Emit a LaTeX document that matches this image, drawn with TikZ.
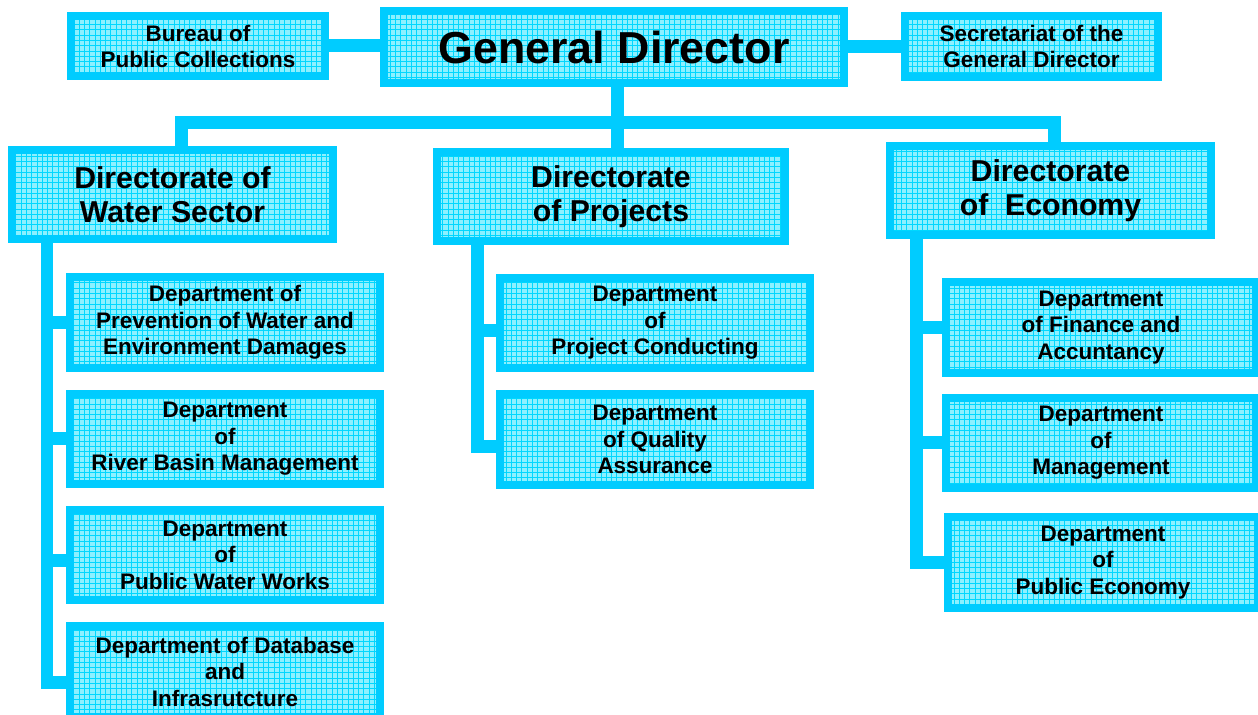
\documentclass[tikz,border=0pt]{standalone}
\usepackage{fontspec}
\setmainfont{Liberation Sans}
\usepackage{xcolor}
\usepackage{tikz}
\usetikzlibrary{patterns}

\definecolor{orgline}{RGB}{0,204,255}
\definecolor{orgfill}{RGB}{140,240,255}
\definecolor{orggrid}{RGB}{0,215,255}

\begin{document}
\begin{tikzpicture}[x=0.02cm,y=-0.02cm,
    orgbox/.style={draw=orgline,line width=0.16cm,preaction={fill=orgfill},
      pattern=grid,pattern color=orggrid,align=center,inner sep=0pt,
      font=\bfseries},
    topbox/.style={orgbox,minimum width=5.08cm,minimum height=1.21cm,
      font=\bfseries\fontsize{12.8}{14.8}\selectfont},
    chiefbox/.style={orgbox,minimum width=9.2cm,minimum height=1.44cm,
      font=\bfseries\fontsize{25.5}{28}\selectfont},
    dirbox/.style={orgbox,minimum height=1.78cm,
      font=\bfseries\fontsize{17.2}{19.4}\selectfont},
    deptbox/.style={orgbox,minimum width=6.2cm,minimum height=1.82cm,
      font=\bfseries\fontsize{12.8}{15.1}\selectfont},
    link/.style={draw=orgline,line width=0.26cm}]
  \useasboundingbox (0,0) rectangle (1258,715);

  \coordinate (bus) at (617,123);
  \coordinate (busL) at (181,123);
  \coordinate (busR) at (1054,123);
  \coordinate (spWS) at (47,0);
  \coordinate (spDP) at (477,0);
  \coordinate (spDE) at (916,0);

  \node[chiefbox] (gd) at (614,47) {General Director};
  \node[topbox] (bur) at (198,46) {Bureau of\\Public Collections};
  \node[topbox] (sec) at (1031.5,46.5) {Secretariat of the\\General Director};

  \node[dirbox,minimum width=6.42cm] (dws) at (172.5,194.5) {Directorate of\\Water Sector};
  \node[dirbox,minimum width=6.96cm] (dp) at (611,196.5) {Directorate\\of Projects};
  \node[dirbox,minimum width=6.42cm] (de) at (1050.5,190.5) {Directorate\\of\ \ Economy};

  \node[deptbox] (ws1) at (225,322.5) {Department of\\Prevention of Water and\\Environment Damages};
  \node[deptbox] (ws2) at (225,439) {Department\\of\\River Basin Management};
  \node[deptbox] (ws3) at (225,555) {Department\\of\\Public Water Works};
  \node[deptbox] (ws4) at (225,671.5) {Department of Database\\and\\Infrasrutcture};

  \node[deptbox] (dp1) at (655,323) {Department\\of\\Project Conducting};
  \node[deptbox] (dp2) at (655,439.5) {Department\\of Quality\\Assurance};

  \node[deptbox] (de1) at (1101,327.5) {Department\\of Finance and\\Accuntancy};
  \node[deptbox] (de2) at (1101,443) {Department\\of\\Management};
  \node[deptbox] (de3) at (1103,562.5) {Department\\of\\Public Economy};

  \draw[link] (bur.east) -- (bur.east -| gd.west);
  \draw[link] (sec.west) -- (sec.west -| gd.east);
  \draw[link] (gd.south -| bus) -- (dp.north -| bus);
  \draw[link] (busL |- dws.north) -- (busL) -- (busR) -- (busR |- de.north);

  \draw[link] (spWS |- dws.south) |- ([yshift=-0.22cm]ws4.west);
  \draw[link] (spWS |- ws1.west) -- (ws1.west);
  \draw[link] (spWS |- ws2.west) -- (ws2.west);
  \draw[link] ([yshift=-0.12cm]spWS |- ws3.west) -- ([yshift=-0.12cm]ws3.west);

  \draw[link] (spDP |- dp.south) |- ([yshift=-0.15cm]dp2.west);
  \draw[link] ([yshift=-0.15cm]spDP |- dp1.west) -- ([yshift=-0.15cm]dp1.west);

  \draw[link] (spDE |- de.south) |- (de3.west);
  \draw[link] (spDE |- de1.west) -- (de1.west);
  \draw[link] (spDE |- de2.west) -- (de2.west);
\end{tikzpicture}
\end{document}
